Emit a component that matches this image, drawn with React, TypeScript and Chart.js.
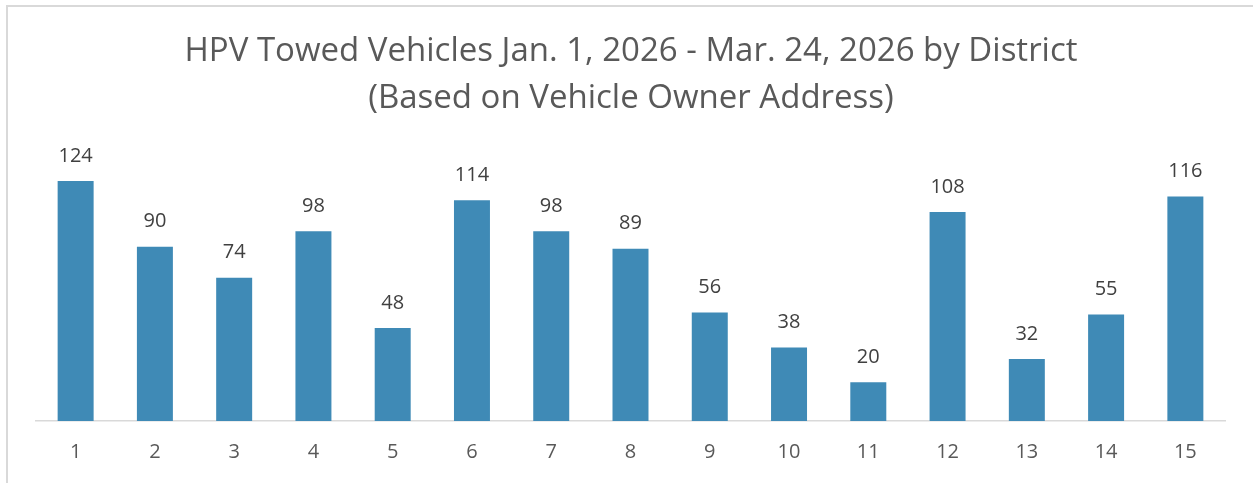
import React, { useEffect, useRef } from "react";
import { Chart, registerables } from "chart.js";

Chart.register(...registerables);

const districts = ["1", "2", "3", "4", "5", "6", "7", "8", "9", "10", "11", "12", "13", "14", "15"];
const towedCounts = [124, 90, 74, 98, 48, 114, 98, 89, 56, 38, 20, 108, 32, 55, 116];
const titleLines = ["HPV Towed Vehicles Jan. 1, 2026 - Mar. 24, 2026 by District", "(Based on Vehicle Owner Address)"];

const FONT = "'Open Sans', 'Noto Sans', sans-serif";

const labelPlugin = {
  id: "customLabels",
  afterDatasetsDraw(chart: any) {
    const ctx = chart.ctx;
    const meta = chart.getDatasetMeta(0);
    ctx.save();
    ctx.font = `20px ${FONT}`;
    ctx.fillStyle = "#404040";
    ctx.textAlign = "center";
    ctx.textBaseline = "middle";
    meta.data.forEach((bar: any, i: number) => {
      ctx.fillText(String(towedCounts[i]), bar.x, bar.y - 25);
    });
    ctx.font = `33px ${FONT}`;
    ctx.fillStyle = "#595959";
    const cx = 631;
    ctx.fillText(titleLines[0], cx, 52);
    ctx.fillText(titleLines[1], cx, 99);
    ctx.restore();
  },
};

export default function App() {
  const ref = useRef<HTMLCanvasElement>(null);
  useEffect(() => {
    if (!ref.current) return;
    const chart = new Chart(ref.current, {
      type: "bar",
      data: {
        labels: districts,
        datasets: [
          {
            data: towedCounts,
            backgroundColor: "#3f8ab6",
            barPercentage: 0.454,
            categoryPercentage: 1,
          },
        ],
      },
      options: {
        animation: false,
        responsive: false,
        maintainAspectRatio: false,
        layout: { padding: { top: 150, left: 36, right: 28, bottom: 1 } },
        plugins: { legend: { display: false }, title: { display: false }, tooltip: { enabled: false } },
        scales: {
          x: {
            grid: { display: false, drawTicks: false },
            border: { display: true, color: "#d9d9d9", width: 1.5 },
            ticks: { color: "#595959", font: { size: 20, family: FONT }, padding: 19, maxRotation: 0 },
          },
          y: { display: false, min: 0, max: 140 },
        },
      },
      plugins: [labelPlugin],
    });
    return () => chart.destroy();
  }, []);
  return (
    <div style={{ position: "fixed", left: 0, top: 0, width: 1253, height: 483, background: "#fff", overflow: "hidden" }}>
      <div style={{ position: "absolute", left: 6, top: 5, width: 1300, height: 600, borderLeft: "2px solid #d9d9d9", borderTop: "2px solid #d9d9d9", boxSizing: "border-box" }} />
      <canvas ref={ref} width={1253} height={484} style={{ position: "absolute", left: 0, top: 0 }} />
    </div>
  );
}
